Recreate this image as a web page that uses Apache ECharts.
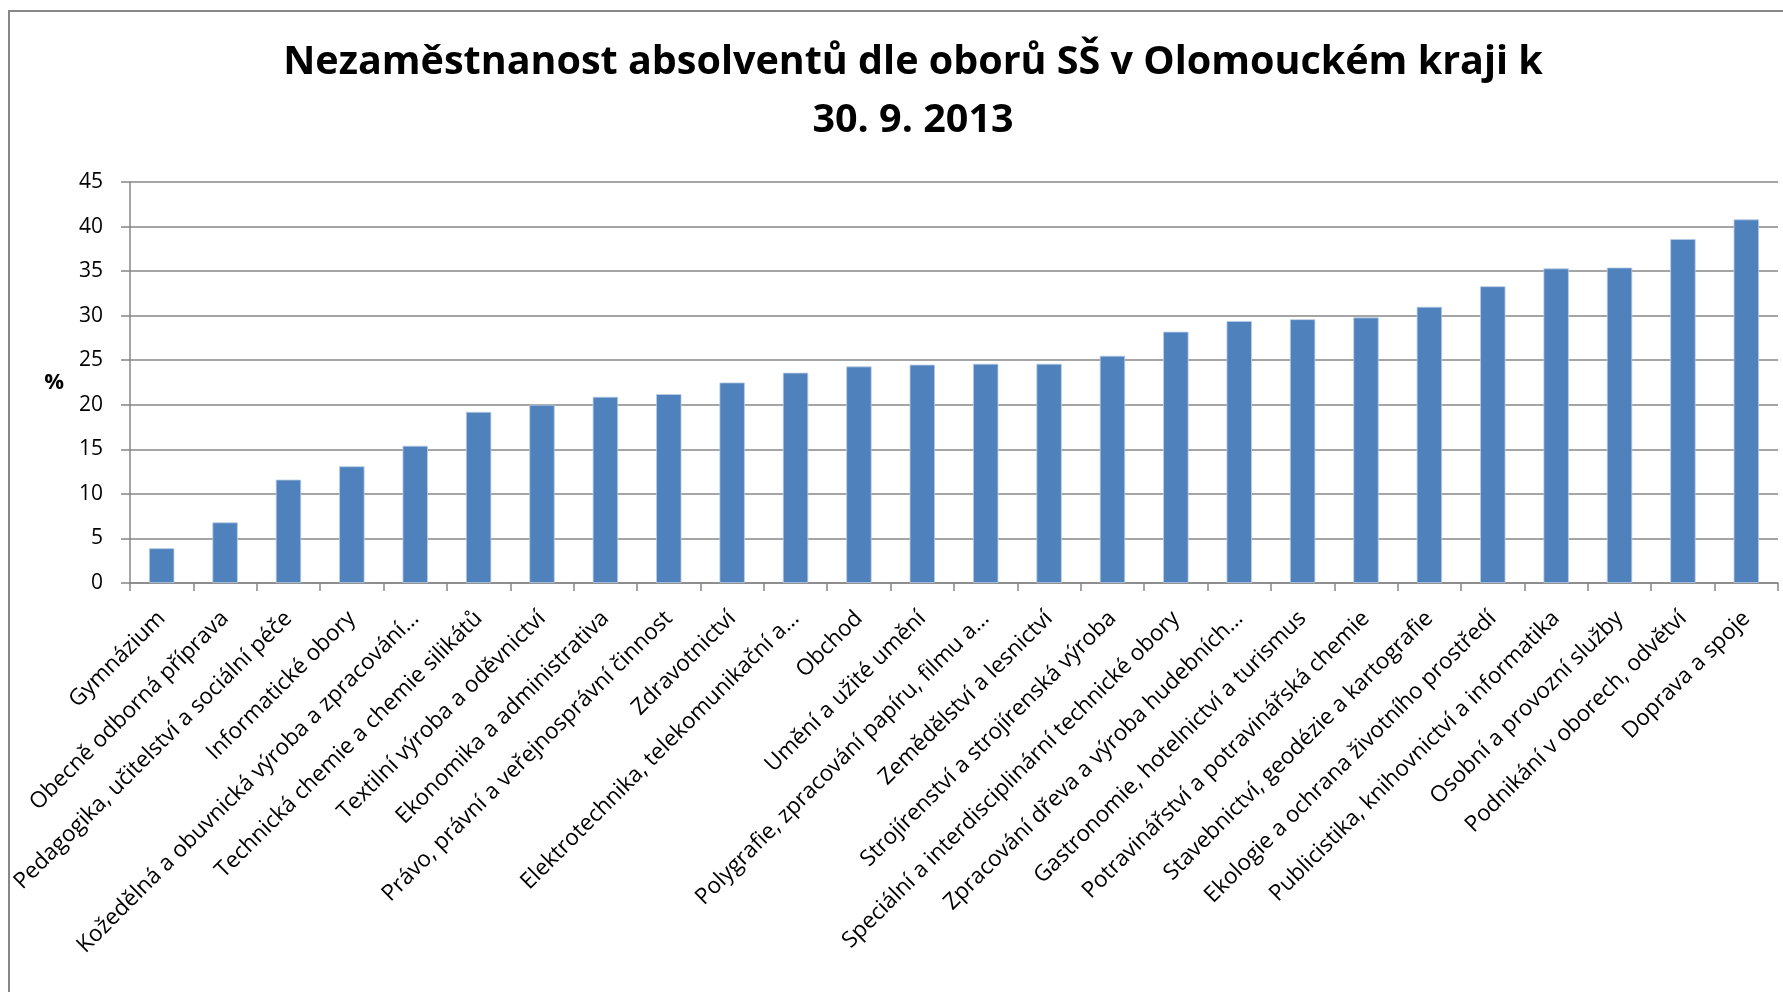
<!DOCTYPE html>
<html>
<head>
<meta charset="utf-8">
<title>Nezaměstnanost absolventů</title>
<script src="https://cdn.jsdelivr.net/npm/echarts@6/dist/echarts.min.js"></script>
<style>
  html, body { margin: 0; padding: 0; background: #fff; }
  #chart { width: 1783px; height: 992px; }
  #frame {
    position: absolute; left: 8px; top: 10px; right: -10px; bottom: -10px;
    border-left: 2px solid #878787; border-top: 2px solid #878787;
    pointer-events: none;
  }
</style>
</head>
<body>
<div id="chart"></div>
<div id="frame"></div>
<script>
// obory SŠ (popisky jak jsou v grafu, dlouhé zkrácené)
var obory = [
  'Gymnázium',
  'Obecně odborná příprava',
  'Pedagogika, učitelství a sociální péče',
  'Informatické obory',
  'Kožedělná a obuvnická výroba a zpracování…',
  'Technická chemie a chemie silikátů',
  'Textilní výroba a oděvnictví',
  'Ekonomika a administrativa',
  'Právo, právní a veřejnosprávní činnost',
  'Zdravotnictví',
  'Elektrotechnika, telekomunikační a…',
  'Obchod',
  'Umění a užité umění',
  'Polygrafie, zpracování papíru, filmu a…',
  'Zemědělství a lesnictví',
  'Strojírenství a strojírenská výroba',
  'Speciální a interdisciplinární technické obory',
  'Zpracování dřeva a výroba hudebních…',
  'Gastronomie, hotelnictví a turismus',
  'Potravinářství a potravinářská chemie',
  'Stavebnictví, geodézie a kartografie',
  'Ekologie a ochrana životního prostředí',
  'Publicistika, knihovnictví a informatika',
  'Osobní a provozní služby',
  'Podnikání v oborech, odvětví',
  'Doprava a spoje'
]
// míra nezaměstnanosti v %
var nezamestnanost = [
  3.9, 6.8, 11.6, 13.1, 15.4, 19.2, 20.0, 20.9, 21.2, 22.5,
  23.6, 24.3, 24.5, 24.6, 24.6, 25.5, 28.2, 29.4, 29.6, 29.8,
  31.0, 33.3, 35.3, 35.4, 38.6, 40.8
]
var yMin = 0
var yMax = 45
var yKrok = 5

var fontName = 'Open Sans'
var seda = '#878787'

var chart = echarts.init(document.getElementById('chart'), null, { renderer: 'canvas' })
chart.setOption({
  animation: false,
  backgroundColor: '#fff',
  textStyle: { fontFamily: fontName },
  title: {
    text: 'Nezaměstnanost absolventů dle oborů SŠ v Olomouckém kraji k\n30. 9. 2013',
    left: 908,
    top: 29,
    textAlign: 'center',
    textStyle: {
      fontFamily: fontName,
      fontSize: 39.5,
      fontWeight: 'bold',
      color: '#000',
      lineHeight: 58
    }
  },
  grid: {
    left: 130,
    right: 5,
    top: 182,
    bottom: 409,
    outerBoundsMode: 'none'
  },
  xAxis: {
    type: 'category',
    data: obory,
    axisLine: { lineStyle: { color: seda, width: 1.5 } },
    axisTick: { show: true, length: 8, interval: 0, lineStyle: { color: seda, width: 1.5 } },
    axisLabel: {
      interval: 0,
      rotate: 45,
      margin: 32,
      fontFamily: fontName,
      fontSize: 22.5,
      color: '#000'
    }
  },
  yAxis: {
    type: 'value',
    min: yMin,
    max: yMax,
    interval: yKrok,
    name: '%',
    nameLocation: 'middle',
    nameRotate: 0,
    nameGap: 66,
    nameTextStyle: { fontFamily: fontName, fontSize: 22, fontWeight: 'bold', color: '#000' },
    axisLine: { show: true, lineStyle: { color: seda, width: 1.5 } },
    axisTick: { show: true, length: 9, lineStyle: { color: seda, width: 1.5 } },
    axisLabel: { margin: 27, fontFamily: fontName, fontSize: 21, color: '#000' },
    splitLine: { show: true, lineStyle: { color: seda, width: 1.5 } }
  },
  series: [{
    name: 'Nezaměstnanost',
    type: 'bar',
    data: nezamestnanost,
    barWidth: '40%',
    itemStyle: {
      color: '#4F81BD',
      borderColor: '#B9CDE5',
      borderWidth: 0.8
    }
  }]
})
</script>
</body>
</html>
